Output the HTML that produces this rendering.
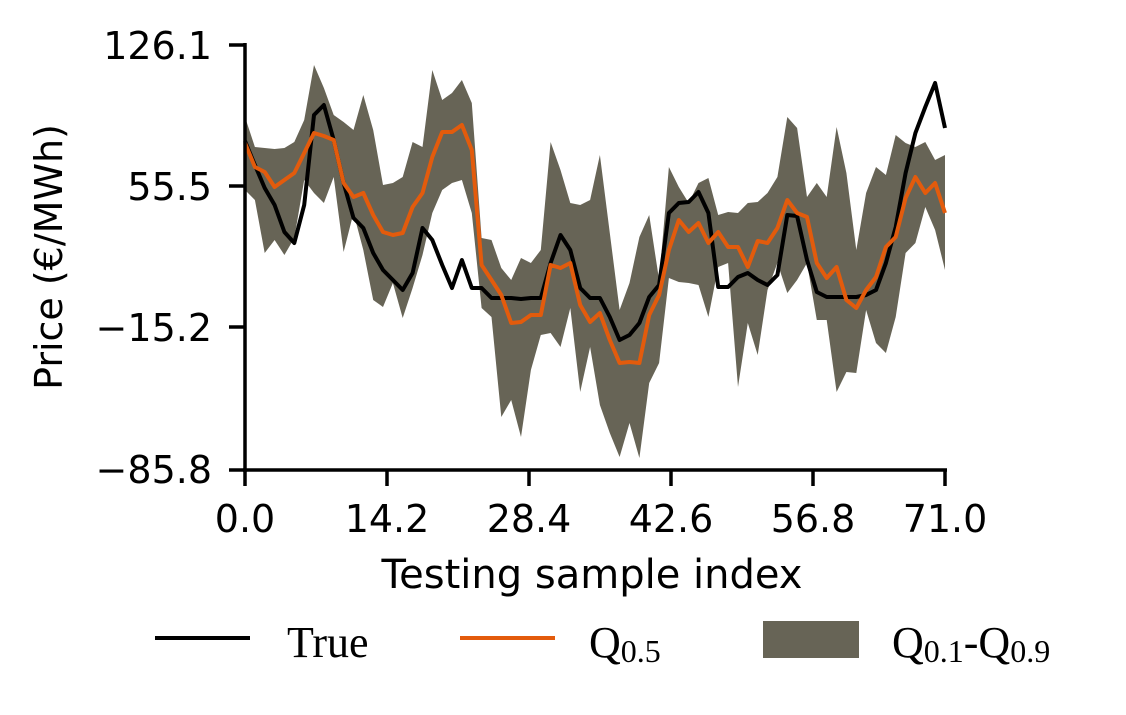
<!DOCTYPE html>
<html><head><meta charset="utf-8"><style>
html,body{margin:0;padding:0;background:#fff}
svg{display:block}
</style></head><body>
<svg width="1126" height="715" viewBox="0 0 1126 715" xmlns="http://www.w3.org/2000/svg">
<polygon fill="#676456" points="245,117 254.9,147 264.7,148 274.6,149 284.4,148 294.3,142 304.2,120 314,65 323.9,88 333.7,115 343.6,122 353.5,130 363.3,95 373.2,130 383,185 392.9,183 402.7,177 412.6,142 422.5,147 432.3,70 442.2,100 452,93 461.9,80 471.8,103 481.6,238 491.5,240 501.3,268 511.2,280 521,258 530.9,263 540.8,250 550.6,142 560.5,170 570.3,203 580.2,205 590.1,200 599.9,155 609.8,233 619.6,310 629.5,283 639.4,237 649.2,215 659.1,280 668.9,167 678.8,187 688.7,203 698.5,183 708.4,178 718.2,215 728.1,212 738,213 747.8,203 757.7,202 767.5,193 777.4,177 787.3,117 797.1,128 807,197 816.8,183 826.7,197 836.6,127 846.4,173 856.3,250 866.1,193 876,167 885.9,175 895.7,135 905.6,143 915.4,147 925.3,142 935.1,160 945,155 945,270 935.1,230 925.3,207 915.4,243 905.6,253 895.7,317 885.9,353 876,343 866.1,310 856.3,373 846.4,372 836.6,392 826.7,320 816.8,320 807,263 797.1,280 787.3,293 777.4,263 767.5,290 757.7,355 747.8,323 738,387 728.1,263 718.2,267 708.4,317 698.5,285 688.7,283 678.8,282 668.9,278 659.1,363 649.2,383 639.4,458 629.5,423 619.6,457 609.8,433 599.9,405 590.1,347 580.2,392 570.3,308 560.5,347 550.6,333 540.8,335 530.9,370 521,437 511.2,400 501.3,417 491.5,317 481.6,308 471.8,213 461.9,180 452,183 442.2,190 432.3,213 422.5,255 412.6,288 402.7,318 392.9,283 383,307 373.2,300 363.3,250 353.5,213 343.6,252 333.7,177 323.9,203 314,193 304.2,180 294.3,238 284.4,255 274.6,240 264.7,253 254.9,200 245,190"/>
<polyline fill="none" stroke="#000" stroke-width="4" stroke-linejoin="round" points="245,141 254.9,165 264.7,188 274.6,205 284.4,232 294.3,243 304.2,205 314,115 323.9,105 333.7,140 343.6,183 353.5,218 363.3,228 373.2,253 383,270 392.9,280 402.7,290 412.6,273 422.5,228 432.3,240 442.2,265 452,288 461.9,260 471.8,288 481.6,288 491.5,298 501.3,298 511.2,298 521,299 530.9,298 540.8,298 550.6,263 560.5,235 570.3,250 580.2,288 590.1,298 599.9,298 609.8,317 619.6,340 629.5,335 639.4,323 649.2,297 659.1,285 668.9,213 678.8,203 688.7,202 698.5,192 708.4,213 718.2,287 728.1,287 738,277 747.8,273 757.7,280 767.5,285 777.4,275 787.3,215 797.1,216 807,260 816.8,292 826.7,297 836.6,297 846.4,297 856.3,297 866.1,295 876,290 885.9,263 895.7,227 905.6,173 915.4,133 925.3,107 935.1,83 945,128"/>
<polyline fill="none" stroke="#e35b0c" stroke-width="4" stroke-linejoin="round" points="245,143 254.9,167 264.7,172 274.6,187 284.4,180 294.3,173 304.2,153 314,133 323.9,136 333.7,140 343.6,183 353.5,197 363.3,193 373.2,215 383,232 392.9,235 402.7,233 412.6,207 422.5,193 432.3,157 442.2,132 452,132 461.9,125 471.8,150 481.6,265 491.5,280 501.3,295 511.2,323 521,322 530.9,315 540.8,315 550.6,265 560.5,268 570.3,263 580.2,305 590.1,322 599.9,313 609.8,340 619.6,363 629.5,362 639.4,363 649.2,315 659.1,295 668.9,250 678.8,220 688.7,232 698.5,223 708.4,243 718.2,232 728.1,247 738,247 747.8,267 757.7,241 767.5,243 777.4,228 787.3,200 797.1,213 807,217 816.8,263 826.7,278 836.6,267 846.4,300 856.3,308 866.1,290 876,277 885.9,247 895.7,237 905.6,198 915.4,177 925.3,193 935.1,183 945,213"/>
<g stroke="#000" stroke-width="3.5" fill="none">
<line x1="245" y1="43" x2="245" y2="472"/>
<line x1="243" y1="470" x2="947" y2="470"/>
<line x1="229" y1="45" x2="245" y2="45"/><line x1="229" y1="186" x2="245" y2="186"/><line x1="229" y1="327" x2="245" y2="327"/><line x1="229" y1="470" x2="245" y2="470"/>
<line x1="245" y1="470" x2="245" y2="486"/><line x1="387" y1="470" x2="387" y2="486"/><line x1="529" y1="470" x2="529" y2="486"/><line x1="671" y1="470" x2="671" y2="486"/><line x1="813" y1="470" x2="813" y2="486"/><line x1="945" y1="470" x2="945" y2="486"/>
</g>
<g font-family="DejaVu Sans, Liberation Sans, sans-serif" font-size="38" fill="#000" text-anchor="end">
<text x="212" y="59">126.1</text><text x="212" y="200">55.5</text><text x="212" y="341">−15.2</text><text x="212" y="483">−85.8</text>
</g>
<g font-family="DejaVu Sans, Liberation Sans, sans-serif" font-size="38" fill="#000" text-anchor="middle">
<text x="245" y="532">0.0</text><text x="387" y="532">14.2</text><text x="529" y="532">28.4</text><text x="671" y="532">42.6</text><text x="813" y="532">56.8</text><text x="945" y="532">71.0</text>
<text x="592" y="588" font-size="40">Testing sample index</text>
<text transform="translate(62,257) rotate(-90)">Price (€/MWh)</text>
</g>
<line x1="155" y1="638" x2="250" y2="638" stroke="#000" stroke-width="4"/>
<line x1="460" y1="638" x2="555" y2="638" stroke="#e35b0c" stroke-width="4"/>
<rect x="763" y="621" width="96" height="37" fill="#676456"/>
<g font-family="Liberation Serif, DejaVu Serif, serif" font-size="44" fill="#000">
<text x="287" y="657">True</text>
<text x="589" y="657">Q<tspan font-size="32" dy="5">0.5</tspan></text>
<text x="892" y="657">Q<tspan font-size="32" dy="5">0.1</tspan><tspan dy="-5">-Q</tspan><tspan font-size="32" dy="5">0.9</tspan></text>
</g>
</svg>
</body></html>
